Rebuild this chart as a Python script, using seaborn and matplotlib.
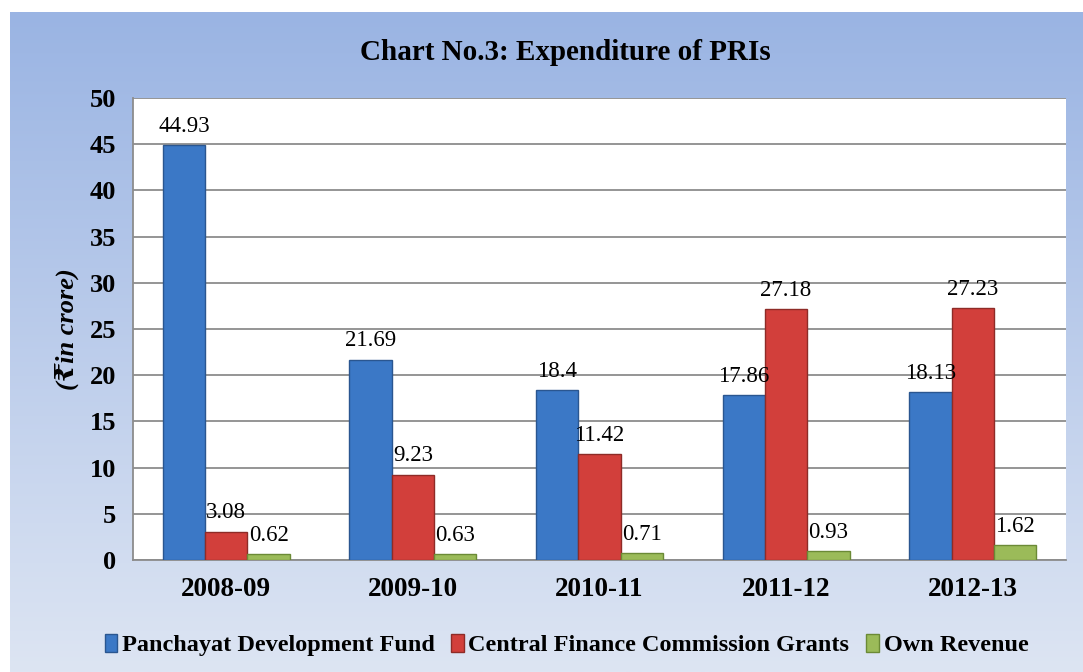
import numpy as np
import matplotlib.pyplot as plt
from matplotlib.colors import LinearSegmentedColormap
import seaborn as sns
import pandas as pd

#   data
years = ["2008-09", "2009-10", "2010-11", "2011-12", "2012-13"]
series_names = ["Panchayat Development Fund",
                "Central Finance Commission Grants",
                "Own Revenue"]
pdf_vals = [44.93, 21.69, 18.4, 17.86, 18.13]
cfc_vals = [3.08, 9.23, 11.42, 27.18, 27.23]
own_vals = [0.62, 0.63, 0.71, 0.93, 1.62]
label_text = [["44.93", "21.69", "18.4", "17.86", "18.13"],
              ["3.08", "9.23", "11.42", "27.18", "27.23"],
              ["0.62", "0.63", "0.71", "0.93", "1.62"]]

colors = ["#3B78C6", "#D23F3B", "#9BBB59"]
edges = ["#2A5690", "#8E2B27", "#6B8A36"]

df = pd.DataFrame({
    "year": years * 3,
    "series": [series_names[0]] * 5 + [series_names[1]] * 5 + [series_names[2]] * 5,
    "value": pdf_vals + cfc_vals + own_vals,
})

sns.set_style("white")
plt.rcParams["font.family"] = ["Liberation Serif", "DejaVu Serif", "DejaVu Sans"]
plt.rcParams["text.color"] = "black"
plt.rcParams["xtick.color"] = "black"
plt.rcParams["ytick.color"] = "black"
plt.rcParams["axes.labelcolor"] = "black"

fig = plt.figure(figsize=(10.83, 6.72), dpi=100)
fig.patch.set_facecolor("white")

#   gradient background of the chart box
bg = fig.add_axes([10 / 1083, 0, 1 - 10 / 1083, 1 - 12 / 672])
cmap = LinearSegmentedColormap.from_list("bg", ["#9AB4E3", "#DDE5F3"])
bg.imshow(np.linspace(0, 1, 256).reshape(-1, 1), aspect="auto", cmap=cmap,
          extent=[0, 1, 0, 1])
bg.set_axis_off()

ax = fig.add_axes([133 / 1083, 1 - 560 / 672, (1066 - 133) / 1083, (560 - 98) / 672])
ax.set_facecolor("white")

sns.barplot(data=df, x="year", y="value", hue="series", order=years,
            hue_order=series_names, palette=colors, width=0.68, ax=ax,
            legend=False, saturation=1, zorder=3)

for i, cont in enumerate(ax.containers):
    for b in cont:
        b.set_edgecolor(edges[i])
        b.set_linewidth(1.0)
    ax.bar_label(cont, labels=label_text[i], padding=6, fontsize=16.5,
                 color="black")

ax.set_ylim(0, 50)
ax.set_yticks(range(0, 51, 5))
ax.set_xlim(-0.5, 4.5)
ax.yaxis.grid(True, color="#8C8C8C", linewidth=1.3, zorder=0)
ax.set_axisbelow(True)

for s in ["top", "right"]:
    ax.spines[s].set_visible(False)
for s in ["left", "bottom"]:
    ax.spines[s].set_color("#8C8C8C")
    ax.spines[s].set_linewidth(1.3)

ax.tick_params(axis="y", which="major", direction="out", length=8,
               color="#8C8C8C", width=1.3, labelsize=19, pad=4)
ax.set_xticks(np.arange(-0.5, 5.0, 1.0), minor=True)
ax.tick_params(axis="x", which="major", length=0, labelsize=19.5, pad=12)
ax.tick_params(axis="x", which="minor", direction="out", length=8,
               color="#8C8C8C", width=1.3)
for lab in ax.get_xticklabels() + ax.get_yticklabels():
    lab.set_fontweight("bold")

ax.set_xlabel("")
ax.set_ylabel("(\u20b9in crore)", fontsize=19, fontweight="bold",
              fontstyle="italic", labelpad=8)

fig.text(0.522, 1 - 52 / 672, "Chart No.3: Expenditure of PRIs", ha="center",
         va="center", fontsize=21, fontweight="bold")

handles = [plt.Rectangle((0, 0), 1, 1, facecolor=colors[i], edgecolor=edges[i])
           for i in range(3)]
fig.legend(handles, series_names, loc="center", bbox_to_anchor=(0.523, 1 - 645 / 672),
           ncol=3, frameon=False, handlelength=0.5, handleheight=0.8,
           handletextpad=0.2, columnspacing=0.7,
           prop={"weight": "bold", "size": 17.5})

fig.savefig("out.png", dpi=100, facecolor="white")
